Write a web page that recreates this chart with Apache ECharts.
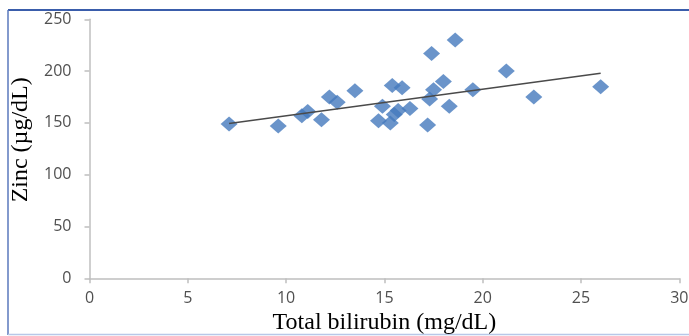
<!DOCTYPE html>
<html>
<head>
<meta charset="utf-8">
<script src="https://cdn.jsdelivr.net/npm/echarts@6/dist/echarts.min.js"></script>
<style>
  html, body { margin: 0; padding: 0; background: #fff; }
  #chart { width: 689px; height: 336px; }
</style>
</head>
<body>
<div id="chart"></div>
<script>
// bilirubin (mg/dL) vs zinc (µg/dL)
const bilirubin = [7.1, 9.6, 10.8, 11.1, 11.8, 12.2, 12.6, 13.5, 14.7, 14.9, 15.3, 15.4, 15.5, 15.7,
  15.9, 16.3, 17.2, 17.3, 17.5, 17.4, 18.0, 18.3, 18.6, 19.5, 21.2, 22.6, 26.0];
const zinc = [149, 147, 157, 161, 153, 175, 170, 181, 152, 166, 150, 186, 158, 162,
  184, 164, 148, 173, 182, 217, 190, 166, 230, 182, 200, 175, 185];

// linear trend line ends
const trendX = [7.1, 26.0];
const trendY = [149.5, 198];

const xTicks = [0, 5, 10, 15, 20, 25, 30];
const yTicks = [0, 50, 100, 150, 200, 250];

const chart = echarts.init(document.getElementById('chart'));

const axisGray = '#bfbfbf';
const labelStyle = {
  color: '#505050',
  fontFamily: 'Open Sans',
  fontSize: 16,
};

const option = {
  animation: false,
  backgroundColor: '#fff',
  grid: {
    left: 89.5,
    right: 9.7,
    top: 19.3,
    bottom: 57.7,
    outerBoundsMode: 'none',
  },
  xAxis: {
    type: 'value',
    min: xTicks[0],
    max: xTicks[xTicks.length - 1],
    interval: 5,
    name: 'Total bilirubin (mg/dL)',
    nameLocation: 'middle',
    nameGap: 30,
    nameTextStyle: {
      fontFamily: 'Liberation Serif',
      fontSize: 24,
      color: '#000',
    },
    axisLine: { show: true, lineStyle: { color: axisGray, width: 1.5 } },
    axisTick: { show: true, length: 5, lineStyle: { color: axisGray, width: 1.5 } },
    splitLine: { show: false },
    axisLabel: { ...labelStyle, margin: 12 },
  },
  yAxis: {
    type: 'value',
    min: yTicks[0],
    max: yTicks[yTicks.length - 1],
    interval: 50,
    name: 'Zinc (µg/dL)',
    nameLocation: 'middle',
    nameGap: 55,
    nameTextStyle: {
      fontFamily: 'Liberation Serif',
      fontSize: 24,
      color: '#000',
      padding: [0, 0, 0, 18],
    },
    axisLine: { show: true, lineStyle: { color: axisGray, width: 1.5 } },
    axisTick: { show: true, length: 5, lineStyle: { color: axisGray, width: 1.5 } },
    splitLine: { show: false },
    axisLabel: { ...labelStyle, margin: 18 },
  },
  graphic: [
    // frame around the figure
    { type: 'line', shape: { x1: 8, y1: 10, x2: 689, y2: 10 }, style: { stroke: '#3a5dab', lineWidth: 2 } },
    { type: 'line', shape: { x1: 8, y1: 10, x2: 8, y2: 335 }, style: { stroke: '#5a78bd', lineWidth: 1.5 } },
    { type: 'line', shape: { x1: 8, y1: 334.5, x2: 689, y2: 334.5 }, style: { stroke: '#b8c8e8', lineWidth: 1.5 } },
  ],
  series: [
    {
      type: 'scatter',
      symbol: 'diamond',
      symbolSize: [17, 15],
      itemStyle: { color: '#4579bd' },
      data: bilirubin.map((x, i) => [x, zinc[i]]),
      z: 2,
    },
    {
      type: 'line',
      data: trendX.map((x, i) => [x, trendY[i]]),
      symbol: 'none',
      lineStyle: { color: '#4a4a4a', width: 1.5 },
      z: 3,
    },
  ],
};

chart.setOption(option);
</script>
</body>
</html>
